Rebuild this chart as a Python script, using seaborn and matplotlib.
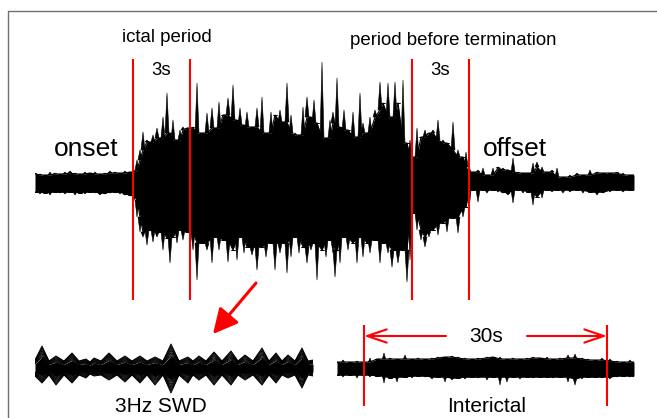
import numpy as np
import pandas as pd
import matplotlib
matplotlib.use("Agg")
import matplotlib.pyplot as plt
from matplotlib.collections import PolyCollection
import seaborn as sns

# ---------------- data ----------------
# Main recording: time in samples, upper / lower envelope of the trace (a.u.)
main_t = [35, 40, 45, 50, 55, 60, 65, 70, 75, 80, 85, 90, 95, 100, 105, 110, 115, 120, 125, 130,
          134, 137, 140, 143, 147, 150, 153, 157, 160, 163, 167, 170, 173, 177, 180,
          183, 187, 193, 197, 202, 207, 212, 215, 219, 223, 228, 233, 237, 240, 244, 247, 252, 257,
          262, 266, 271, 275, 280, 283, 287, 291, 295, 299, 303, 307, 311, 314, 317, 322, 326, 330, 333,
          335,
          337, 340, 344, 348, 353, 357, 360, 363, 367, 370, 375, 380, 383, 388, 392, 395, 398, 403,
          407, 410, 413, 417, 421, 425, 429, 433, 438, 443, 447, 453, 458, 463, 466, 469, 473, 478, 483,
          487, 493, 498, 503, 508, 513, 518, 523, 528, 533, 537, 542, 547, 552, 557, 563, 570, 577,
          583, 590, 597, 603, 610, 617, 623, 630, 634]
main_up = [10, 9, 8, 11, 10, 9, 11, 12, 10, 9, 11, 10, 11, 9, 10, 12, 11, 10, 12, 11,
           13, 23, 33, 51, 43, 41, 48, 55, 45, 66, 90, 50, 63, 43, 53,
           56, 55, 56, 100, 50, 70, 75, 55, 81, 68, 85, 98, 63, 75, 58, 71, 56, 75,
           86, 50, 71, 68, 73, 61, 100, 68, 50, 48, 76, 86, 66, 83, 60, 121, 45, 63, 71,
           60,
           105, 56, 73, 53, 71, 46, 90, 60, 50, 66, 73, 101, 80, 100, 66, 101, 80, 103,
           40, 43, 26, 55, 46, 53, 50, 53, 63, 43, 40, 61, 33, 26, 31, 16, 11, 13, 15,
           8, 15, 16, 15, 13, 25, 11, 10, 10, 20, 21, 16, 11, 13, 15, 6, 8, 10,
           8, 13, 11, 10, 10, 11, 10, 8, 8]
main_lo = [-9, -11, -10, -12, -9, -10, -11, -9, -12, -10, -11, -9, -10, -12, -11, -10, -9, -11, -12, -13,
           -17, -34, -49, -54, -62, -47, -59, -54, -49, -67, -55, -80, -54, -60, -47,
           -57, -49, -67, -97, -60, -67, -80, -54, -67, -57, -79, -67, -77, -54, -70, -64, -72, -87,
           -64, -74, -60, -87, -70, -60, -90, -74, -54, -70, -64, -80, -67, -60, -97, -67, -74, -57, -70,
           -94,
           -67, -80, -54, -67, -60, -80, -54, -74, -60, -70, -57, -80, -60, -70, -84, -67, -80, -67,
           -99, -77, -30, -47, -57, -64, -54, -47, -52, -40, -49, -35, -50, -34, -24, -27, -7, -19, -7,
           -10, -7, -9, -10, -12, -20, -7, -10, -9, -22, -14, -15, -7, -9, -7, -10, -9, -7,
           -10, -9, -12, -10, -9, -7, -9, -7, -7]
main_events = [133, 190, 412, 469]          # ictal 3s window, pre-termination 3s window
main_event_labels = ["3s", "3s"]

# Superimposed 3 Hz spike-wave discharges
swd_t = [35, 42, 49, 56, 64, 72, 79, 86, 90, 94, 101, 109, 117, 125, 132, 140, 147, 155, 163, 171,
         179, 188, 193, 199, 206, 214, 222, 231, 238, 245, 253, 262, 269, 276, 282, 288, 295, 302, 308, 313]
swd_up = [8, 22, 7, 12, 7, 15, 7, 9, 6, 10, 7, 15, 7, 12, 7, 12, 7, 11, 7, 24,
          7, 11, 7, 12, 7, 16, 7, 17, 7, 13, 7, 20, 7, 15, 7, 13, 7, 20, 7, 8]
swd_lo = [-8, -15, -7, -17, -7, -15, -7, -10, -6, -8, -7, -12, -7, -14, -7, -15, -7, -17, -7, -25,
          -7, -15, -7, -12, -7, -17, -7, -17, -7, -12, -7, -17, -7, -15, -7, -10, -7, -20, -7, -8]

# Interictal segment
inter_t = [337, 343, 350, 357, 363, 370, 377, 384, 390, 397, 405, 412, 418, 425, 432, 438, 445, 452,
           458, 465, 472, 478, 487, 493, 500, 507, 513, 520, 527, 533, 540, 547, 553, 560, 568, 575,
           582, 588, 595, 602, 610, 617, 623, 630, 634]
inter_up = [6, 8, 6, 7, 6, 10, 9, 15, 10, 9, 13, 9, 10, 9, 10, 11, 11, 12, 11, 10, 9, 10, 11, 11, 11,
            9, 10, 9, 10, 11, 10, 11, 9, 10, 13, 14, 10, 9, 8, 10, 9, 7, 6, 8, 6]
inter_lo = [-7, -9, -7, -10, -7, -9, -8, -15, -10, -14, -9, -10, -8, -9, -11, -9, -14, -12, -10, -11,
            -9, -10, -12, -9, -17, -14, -9, -11, -9, -10, -9, -9, -10, -9, -14, -17, -11, -9, -9, -10,
            -11, -9, -8, -9, -8]
inter_events = [364, 607]                  # 30 s window
inter_label = "30s"

# ---------------- figure ----------------
sns.set_theme(style="white")
plt.rcParams["font.family"] = ["Liberation Sans", "DejaVu Sans"]
plt.rcParams["text.color"] = "black"

W, H = 657, 418
fig = plt.figure(figsize=(W / 100, H / 100), dpi=100)
fig.patch.set_facecolor("white")


def px_rect(x0, x1, y0, y1):
    return [x0 / W, 1 - y1 / H, (x1 - x0) / W, (y1 - y0) / H]


def draw_trace(ax, t, up, lo, half=2.0, lw_edge=0.8):
    df = pd.DataFrame({"t": t, "up": up, "lo": lo})
    # solid body of the trace: lower of neighbouring peaks
    df["core_up"] = df["up"].rolling(3, center=True, min_periods=1).min()
    df["core_lo"] = df["lo"].rolling(3, center=True, min_periods=1).max()
    ax.fill_between(df["t"], df["core_lo"], df["core_up"], color="black", lw=0)
    sns.lineplot(data=df, x="t", y="core_up", ax=ax, color="black", lw=lw_edge, estimator=None, sort=False)
    sns.lineplot(data=df, x="t", y="core_lo", ax=ax, color="black", lw=lw_edge, estimator=None, sort=False)
    # tapering spikes from the body out to each peak
    tris = []
    for _, r in df.iterrows():
        tris.append([(r.t - half, r.core_up), (r.t, r.up), (r.t + half, r.core_up)])
        tris.append([(r.t - half, r.core_lo), (r.t, r.lo), (r.t + half, r.core_lo)])
    ax.add_collection(PolyCollection(tris, facecolors="black", edgecolors="black", linewidths=0.4))


RED = "#ff0000"

# main trace
ax_m = fig.add_axes(px_rect(35, 634, 55, 300))
draw_trace(ax_m, main_t, main_up, main_lo, half=2.0)
ax_m.vlines(main_events, -117, 124, color=RED, lw=1.5, zorder=5)
ax_m.set_xlim(min(main_t), max(main_t))
ax_m.set_ylim(-117, 128)
ax_m.set_axis_off()

# SWD (superimposed sweeps)
ax_s = fig.add_axes(px_rect(35, 313, 340, 396))
s_up = np.array(swd_up, dtype=float)
s_lo = np.array(swd_lo, dtype=float)
ax_s.fill_between(swd_t, s_lo * 0.5, s_up * 0.5, color="black", lw=0)
for k in np.linspace(0.5, 1.0, 8):
    d = pd.DataFrame({"t": swd_t, "u": s_up * k, "l": s_lo * k})
    sns.lineplot(data=d, x="t", y="u", ax=ax_s, color="black", lw=0.7, estimator=None, sort=False)
    sns.lineplot(data=d, x="t", y="l", ax=ax_s, color="black", lw=0.7, estimator=None, sort=False)
ax_s.set_xlim(min(swd_t), max(swd_t))
ax_s.set_ylim(-28, 28)
ax_s.set_axis_off()

# interictal
ax_i = fig.add_axes(px_rect(337, 634, 320, 410))
draw_trace(ax_i, inter_t, inter_up, inter_lo, half=1.6, lw_edge=0.8)
ax_i.vlines(inter_events, -38, 43, color=RED, lw=1.5, zorder=5)
ax_i.set_xlim(min(inter_t), max(inter_t))
ax_i.set_ylim(-42, 48)
ax_i.set_axis_off()

# overlay for annotations (pixel coordinates)
ax0 = fig.add_axes([0, 0, 1, 1], zorder=10)
ax0.set_xlim(0, W)
ax0.set_ylim(H, 0)
ax0.set_axis_off()
ax0.patch.set_alpha(0)

ax0.plot([8, 8, W], [H, 11, 11], color="#6f6f6f", lw=1.0, solid_capstyle="butt")

ax0.text(167, 41.5, "ictal period", ha="center", va="baseline", fontsize=13.4)
ax0.text(453, 45, "period before termination", ha="center", va="baseline", fontsize=13.4)
ax0.text((main_events[0] + main_events[1]) / 2 - 0.5, 75, main_event_labels[0], ha="center", va="baseline", fontsize=13.4)
ax0.text((main_events[2] + main_events[3]) / 2, 75, main_event_labels[1], ha="center", va="baseline", fontsize=13.4)
ax0.text(86, 156.5, "onset", ha="center", va="baseline", fontsize=19)
ax0.text(515, 156.5, "offset", ha="center", va="baseline", fontsize=19)
ax0.text(161, 411.5, "3Hz SWD", ha="center", va="baseline", fontsize=15)
ax0.text(487, 412.5, "Interictal", ha="center", va="baseline", fontsize=15)
ax0.text(486, 342.5, inter_label, ha="center", va="baseline", fontsize=15)

# red arrow pointing to SWD
ax0.annotate("", xy=(213, 334), xytext=(256, 283),
             arrowprops=dict(arrowstyle="-|>,head_length=0.75,head_width=0.38", color=RED,
                             lw=2.2, mutation_scale=20, shrinkA=0, shrinkB=0))
# 30 s double arrow
ax0.annotate("", xy=(inter_events[0], 336), xytext=(446, 336),
             arrowprops=dict(arrowstyle="->,head_length=1.0,head_width=0.34", color=RED,
                             lw=1.5, mutation_scale=14, shrinkA=0, shrinkB=0))
ax0.annotate("", xy=(inter_events[1], 336), xytext=(527, 336),
             arrowprops=dict(arrowstyle="->,head_length=1.0,head_width=0.34", color=RED,
                             lw=1.5, mutation_scale=14, shrinkA=0, shrinkB=0))

fig.savefig("out.png", dpi=100, facecolor="white")
